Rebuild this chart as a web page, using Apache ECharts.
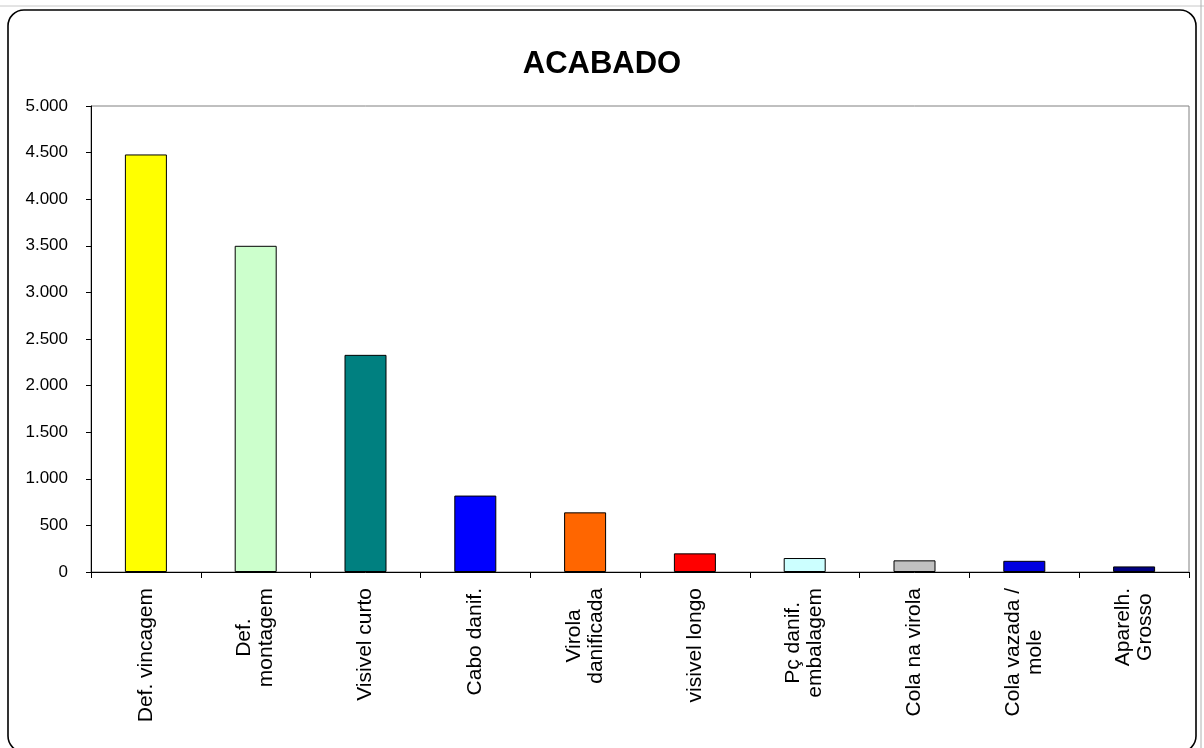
<!DOCTYPE html>
<html>
<head>
<meta charset="utf-8">
<script src="https://cdn.jsdelivr.net/npm/echarts@6/dist/echarts.min.js"></script>
<style>
html,body{margin:0;padding:0;background:#fff;}
#c{width:1204px;height:748px;}
</style>
</head>
<body>
<div id="c"></div>
<script>
const categories = ["Def. vincagem","Def.\nmontagem","Visivel curto","Cabo danif.","Virola\ndanificada","visivel longo","Pç danif.\nembalagem","Cola na virola","Cola vazada /\nmole","Aparelh.\nGrosso"];
const values = [4480, 3500, 2330, 820, 640, 200, 150, 125, 120, 60];
const barColors = ["#FFFF00","#CCFFCC","#008080","#0000FF","#FF6600","#FF0000","#CCFFFF","#C0C0C0","#0000E0","#000080"];
const yTicks = {min: 0, max: 5000, interval: 500};
const titleText = "ACABADO";

const chart = echarts.init(document.getElementById('c'), null, {renderer: 'canvas'});
const sans = '"Liberation Sans",Arial,sans-serif';

chart.setOption({
  backgroundColor: '#ffffff',
  animation: false,
  title: {
    text: titleText,
    left: 'center',
    top: 44,
    textStyle: {fontFamily: sans, fontWeight: 'bold', fontSize: 31, color: '#000'}
  },
  graphic: [
    {type: 'rect', shape: {x: 8, y: 10, width: 1188, height: 742, r: 16},
     style: {fill: 'none', stroke: '#000', lineWidth: 1.6}, z: -1},
    {type: 'line', shape: {x1: 0, y1: 6, x2: 1204, y2: 6},
     style: {stroke: '#c8c8c8', lineWidth: 1}, z: -1},
    {type: 'line', shape: {x1: 1201, y1: 0, x2: 1201, y2: 748},
     style: {stroke: '#b0b0b0', lineWidth: 1}, z: -1}
  ],
  grid: {left: 91, right: 15, top: 106, bottom: 176, show: true,
         borderColor: '#808080', borderWidth: 1, backgroundColor: 'transparent'},
  xAxis: {
    type: 'category',
    data: categories,
    boundaryGap: true,
    axisLine: {lineStyle: {color: '#000', width: 1}},
    axisTick: {show: true, length: 6, interval: 0, lineStyle: {color: '#000'}},
    axisLabel: {
      interval: 0,
      rotate: 90,
      margin: 16,
      fontFamily: sans,
      fontSize: 21,
      lineHeight: 22,
      color: '#000',
      formatter: function (v) {
        return v.split('\n').map(function (l) { return '{c|' + l + '}'; }).join('\n');
      },
      rich: {c: {align: 'center', fontFamily: sans, fontSize: 21, lineHeight: 22, color: '#000'}}
    }
  },
  yAxis: {
    type: 'value',
    min: yTicks.min,
    max: yTicks.max,
    interval: yTicks.interval,
    splitLine: {show: false},
    axisLine: {show: true, lineStyle: {color: '#000', width: 1}},
    axisTick: {show: true, length: 5, lineStyle: {color: '#000'}},
    axisLabel: {
      margin: 23,
      fontFamily: sans,
      fontSize: 17,
      color: '#000',
      formatter: function (v) {
        return String(v).replace(/\B(?=(\d{3})+(?!\d))/g, '.');
      }
    }
  },
  series: [{
    type: 'bar',
    barWidth: 42,
    data: values.map(function (v, i) {
      return {value: v, itemStyle: {color: barColors[i], borderColor: '#000', borderWidth: 1}};
    })
  }]
});
</script>
</body>
</html>
